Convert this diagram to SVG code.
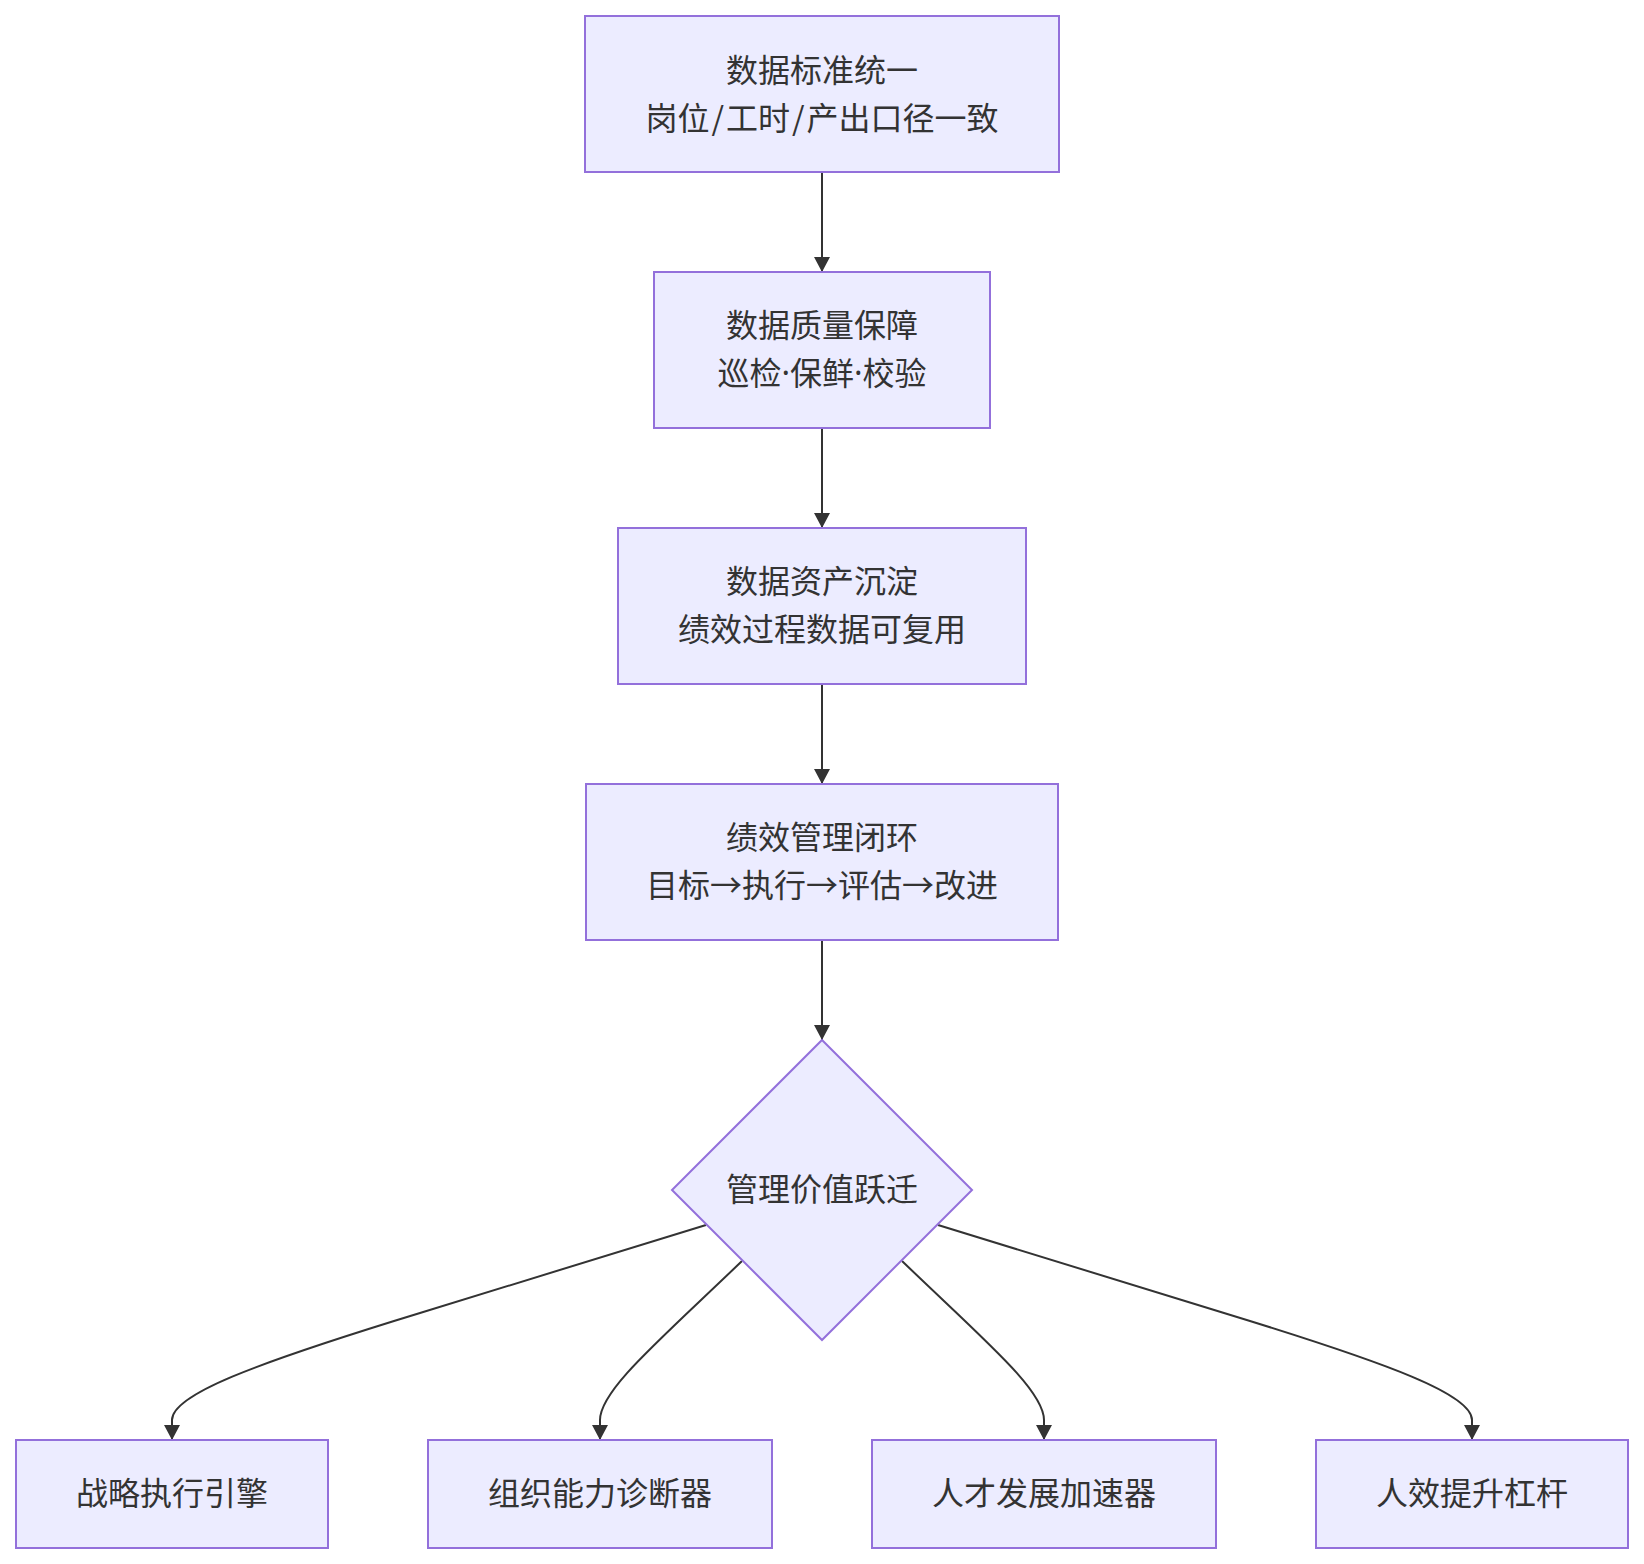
<svg xmlns="http://www.w3.org/2000/svg" width="1644" height="1564" viewBox="0 0 1644 1564">
<style>
.node rect, .node polygon { fill: #ECECFF; stroke: #9370DB; stroke-width: 2; }
.node text { font-family: "Noto Sans CJK SC", "Noto Sans", sans-serif; font-size: 32px; fill: #333333; text-anchor: middle; dominant-baseline: central; }
.dot { font-family: "Noto Sans", "Noto Sans CJK SC", sans-serif; }
.edges path { fill: none; stroke: #333333; stroke-width: 2; }
</style>
<defs>
<marker id="arrow" markerUnits="userSpaceOnUse" markerWidth="16" markerHeight="16" viewBox="0 0 16 16" refX="15" refY="8" orient="auto">
<path d="M0,0 L15,8 L0,16 z" fill="#333333"/>
</marker>
</defs>
<rect width="1644" height="1564" fill="#ffffff"/>
<g class="edges">
<path d="M822,172 L822,272" marker-end="url(#arrow)"/>
<path d="M822,428 L822,528" marker-end="url(#arrow)"/>
<path d="M822,684 L822,784" marker-end="url(#arrow)"/>
<path d="M822,940 L822,1040" marker-end="url(#arrow)"/>
<path d="M706,1225 L420,1313 C250,1365 172,1395 172,1420 L172,1440" marker-end="url(#arrow)"/>
<path d="M742,1261 C660,1340 600,1390 600,1420 L600,1440" marker-end="url(#arrow)"/>
<path d="M902,1261 C984,1340 1044,1390 1044,1420 L1044,1440" marker-end="url(#arrow)"/>
<path d="M938,1225 L1224,1313 C1394,1365 1472,1395 1472,1420 L1472,1440" marker-end="url(#arrow)"/>
</g>
<g id="n1" class="node">
<rect x="585" y="16" width="474" height="156"/>
<text x="822" y="67.5">数据标准统一</text>
<text x="822" y="115.5">岗位<tspan dx="2">/</tspan><tspan dx="2">工时</tspan><tspan dx="2">/</tspan><tspan dx="2">产出口径一致</tspan></text>
</g>
<g id="n2" class="node">
<rect x="654" y="272" width="336" height="156"/>
<text x="822" y="323">数据质量保障</text>
<text x="822" y="371">巡检<tspan class="dot">·</tspan>保鲜<tspan class="dot">·</tspan>校验</text>
</g>
<g id="n3" class="node">
<rect x="618" y="528" width="408" height="156"/>
<text x="822" y="579">数据资产沉淀</text>
<text x="822" y="627">绩效过程数据可复用</text>
</g>
<g id="n4" class="node">
<rect x="586" y="784" width="472" height="156"/>
<text x="822" y="835">绩效管理闭环</text>
<text x="822" y="883">目标→执行→评估→改进</text>
</g>
<g id="n5" class="node">
<polygon points="822,1040 972,1190 822,1340 672,1190"/>
<text x="822" y="1187">管理价值跃迁</text>
</g>
<g id="n6" class="node">
<rect x="16" y="1440" width="312" height="108"/>
<text x="172" y="1491">战略执行引擎</text>
</g>
<g id="n7" class="node">
<rect x="428" y="1440" width="344" height="108"/>
<text x="600" y="1491">组织能力诊断器</text>
</g>
<g id="n8" class="node">
<rect x="872" y="1440" width="344" height="108"/>
<text x="1044" y="1491">人才发展加速器</text>
</g>
<g id="n9" class="node">
<rect x="1316" y="1440" width="312" height="108"/>
<text x="1472" y="1491">人效提升杠杆</text>
</g>
</svg>
